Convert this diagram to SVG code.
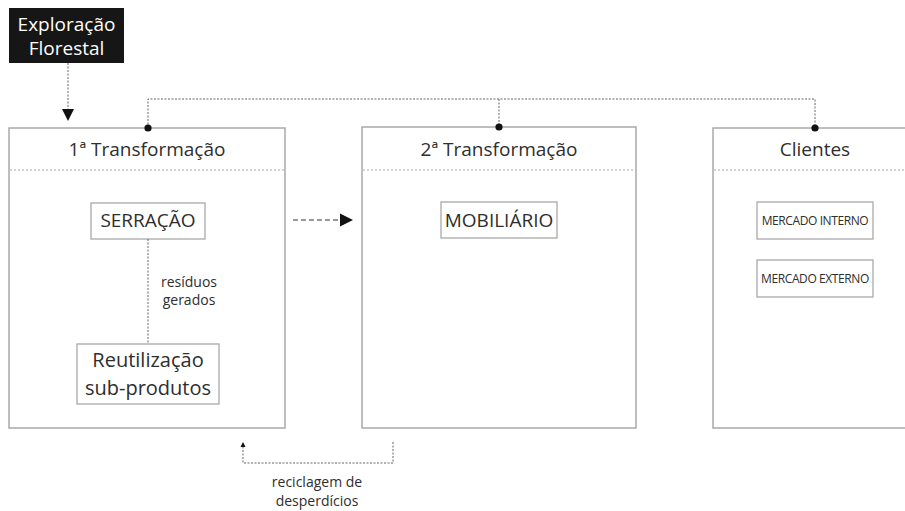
<svg xmlns="http://www.w3.org/2000/svg" width="905" height="511" viewBox="0 0 905 511">
  <style>
    text { font-family: "Open Sans", "Noto Sans", "Liberation Sans", sans-serif; fill: #2e2e2e; }
    .frame { fill: #fff; stroke: #a9a9a9; stroke-width: 1.5; }
    .inner { fill: #fff; stroke: #a9a9a9; stroke-width: 1.3; }
    .sep { stroke: #aaa; stroke-width: 1.2; stroke-dasharray: 2 2; fill: none; }
    .dot { stroke: #666; stroke-width: 1; stroke-dasharray: 2 1.5; fill: none; }
    .title { font-size: 19px; text-anchor: middle; }
    .lbl { font-size: 19px; text-anchor: middle; }
    .big { font-size: 20px; text-anchor: middle; }
    .small { font-size: 12px; text-anchor: middle; letter-spacing: -0.4px; }
    .note { font-size: 14px; text-anchor: middle; }
  </style>
  <rect width="905" height="511" fill="#fff"/>

  <g id="exploracao">
    <rect x="9" y="8" width="115" height="55" fill="#161616"/>
    <text x="66.5" y="31" style="fill:#fff;font-size:19px;text-anchor:middle">Exploração</text>
    <text x="66.5" y="55" style="fill:#fff;font-size:19px;text-anchor:middle">Florestal</text>
  </g>

  <g id="transformacao1">
    <rect class="frame" x="9" y="128" width="276" height="300"/>
    <line class="sep" x1="10" y1="170" x2="284" y2="170"/>
    <text class="title" x="147" y="156">1ª Transformação</text>
    <g id="serracao">
      <rect class="inner" x="91" y="203" width="114" height="36"/>
      <text class="lbl" x="148" y="227">SERRAÇÃO</text>
    </g>
    <g id="reutilizacao">
      <rect class="inner" x="77" y="344" width="142" height="60"/>
      <text class="big" x="148" y="367">Reutilização</text>
      <text class="big" x="148" y="395">sub-produtos</text>
    </g>
  </g>

  <g id="transformacao2">
    <rect class="frame" x="362" y="127" width="274" height="301"/>
    <line class="sep" x1="363" y1="170" x2="635" y2="170"/>
    <text class="title" x="499" y="156">2ª Transformação</text>
    <g id="mobiliario">
      <rect class="inner" x="441" y="202" width="116" height="36"/>
      <text class="lbl" x="499" y="227">MOBILIÁRIO</text>
    </g>
  </g>

  <g id="clientes">
    <rect class="frame" x="713" y="128" width="200" height="300"/>
    <line class="sep" x1="714" y1="170" x2="905" y2="170"/>
    <text class="title" x="815" y="156">Clientes</text>
    <g id="mercado-interno">
      <rect class="inner" x="757" y="202" width="116" height="37"/>
      <text class="small" x="815" y="225">MERCADO INTERNO</text>
    </g>
    <g id="mercado-externo">
      <rect class="inner" x="757" y="260" width="116" height="37"/>
      <text class="small" x="815" y="283">MERCADO EXTERNO</text>
    </g>
  </g>

  <g id="connectors">
    <!-- supply into first transformation -->
    <line class="dot" x1="68" y1="63" x2="68" y2="110"/>
    <path d="M62,109 L74,109 L68,121 Z" fill="#111"/>

    <!-- shared link across the three stages -->
    <path class="dot" d="M148,128 V99 H815 V128 M499,99 V128"/>
    <circle cx="148" cy="128" r="3.6" fill="#111"/>
    <circle cx="499" cy="127" r="3.6" fill="#111"/>
    <circle cx="815" cy="128" r="3.6" fill="#111"/>

    <!-- residues -->
    <line class="dot" x1="148" y1="239" x2="148" y2="344"/>
    <text class="note" x="189" y="287">resíduos</text>
    <text class="note" x="189" y="305">gerados</text>

    <!-- flow between transformations -->
    <line x1="293" y1="220" x2="341" y2="220" stroke="#777" stroke-width="1.5" stroke-dasharray="5 3"/>
    <path d="M340,213.5 L353,220 L340,226.5 Z" fill="#111"/>

    <!-- waste recycling loop -->
    <path class="dot" d="M393,442 V463 H243 V446"/>
    <path d="M240.5,447 L245.5,447 L243,442 Z" fill="#111"/>
    <text class="note" x="317" y="487">reciclagem de</text>
    <text class="note" x="317" y="506">desperdícios</text>
  </g>
</svg>
